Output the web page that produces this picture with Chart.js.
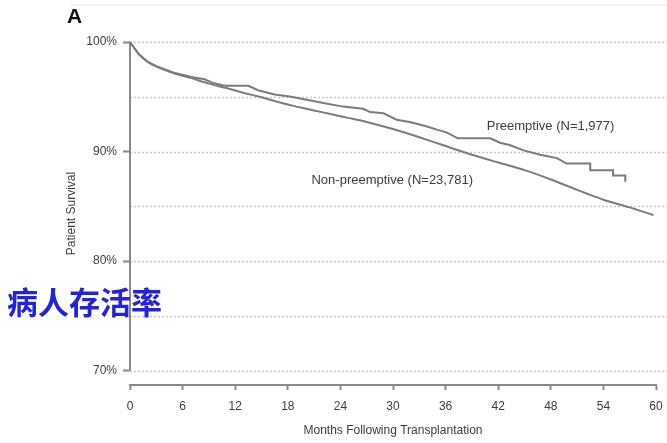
<!DOCTYPE html>
<html>
<head>
<meta charset="utf-8">
<script src="https://cdn.jsdelivr.net/npm/chart.js@4.4.1/dist/chart.umd.min.js"></script>
<style>
    html, body { margin: 0; padding: 0; background: #ffffff; }
    canvas { display: block; }
</style>
</head>
<body>
<canvas id="survivalChart" width="667" height="443"></canvas>
<script>
const monthTicks = [0, 6, 12, 18, 24, 30, 36, 42, 48, 54, 60]
const survivalTicks = [70, 80, 90, 100]
const gridValues = [70, 75, 80, 85, 90, 95, 100]

const nonPreMonths = [0, 1, 2, 3, 5, 7, 9, 11, 13, 15, 17, 19, 21, 23, 25, 27, 30, 33, 36, 39, 42, 45, 48, 51, 54, 57, 59.7]
const nonPreSurvival = [100, 98.9, 98.2, 97.75, 97.15, 96.7, 96.2, 95.8, 95.35, 94.95, 94.5, 94.1, 93.75, 93.4, 93.05, 92.7, 92.05, 91.3, 90.5, 89.7, 89.0, 88.3, 87.45, 86.5, 85.6, 84.9, 84.2]

const preMonths = [0, 1, 2, 3, 5, 7, 8.5, 9.5, 10.8, 13.5, 14.6, 16.5, 18.4, 20.3, 22.2, 24.3, 26.6, 27.4, 28.9, 30.4, 31.9, 33.8, 35, 36.1, 37.4, 41.1, 42.2, 43.3, 44.9, 46.8, 48.7, 49.8, 52.5, 52.5, 55.1, 55.1, 56.5, 56.5]
const preSurvival = [100, 98.9, 98.2, 97.8, 97.2, 96.8, 96.6, 96.25, 96.0, 96.0, 95.6, 95.2, 95.0, 94.7, 94.4, 94.1, 93.9, 93.6, 93.5, 92.9, 92.7, 92.3, 92.0, 91.75, 91.2, 91.2, 90.8, 90.6, 90.1, 89.7, 89.4, 88.9, 88.9, 88.3, 88.3, 87.8, 87.8, 87.25]

const seriesLabels = ["Preemptive (N=1,977)", "Non-preemptive (N=23,781)"]
// where each curve label sits, in months / percent
const labelAnchors = [[40.7, 92.25], [20.7, 87.35]]

const toPoints = (xs, ys) => xs.map((x, i) => ({ x: x, y: ys[i] }))

const fontFamily = "'Liberation Sans', Arial, sans-serif"
const lineGrey = "#7c7c7c"
const axisGrey = "#8a8a8a"
const textGrey = "#3c3c3c"

const framePlugin = {
    id: "frame",
    beforeDatasetsDraw(chart) {
        const { ctx, chartArea, scales } = chart
        const y = scales.y
        ctx.save()
        // faint line along the top of the figure
        ctx.strokeStyle = "#eeeeee"
        ctx.lineWidth = 1.5
        ctx.beginPath()
        ctx.moveTo(70, 5)
        ctx.lineTo(chart.width, 5)
        ctx.stroke()
        // dotted grid, runs to the right edge
        ctx.strokeStyle = "#c6c6c6"
        ctx.lineWidth = 1.5
        ctx.setLineDash([2, 2])
        for (const v of gridValues) {
            const py = Math.round(y.getPixelForValue(v)) + 0.5
            ctx.beginPath()
            ctx.moveTo(chartArea.left, py)
            ctx.lineTo(chart.width, py)
            ctx.stroke()
        }
        ctx.setLineDash([])
        // y axis line stops at 70%
        ctx.strokeStyle = axisGrey
        ctx.lineWidth = 2
        ctx.beginPath()
        ctx.moveTo(chartArea.left, y.getPixelForValue(100))
        ctx.lineTo(chartArea.left, y.getPixelForValue(70))
        ctx.stroke()
        ctx.restore()
    },
    afterDatasetsDraw(chart) {
        const { ctx, scales } = chart
        ctx.save()
        ctx.textBaseline = "middle"
        ctx.textAlign = "left"
        ctx.fillStyle = "#111111"
        ctx.font = "bold 21px " + fontFamily
        ctx.fillText("A", 67, 17)

        ctx.fillStyle = textGrey
        ctx.font = "13px " + fontFamily
        seriesLabels.forEach((text, i) => {
            const [mx, my] = labelAnchors[i]
            ctx.fillText(text, scales.x.getPixelForValue(mx), scales.y.getPixelForValue(my))
        })

        ctx.fillStyle = "#2323dc"
        ctx.font = "bold 31px 'Noto Sans CJK SC', sans-serif"
        ctx.fillText("病人存活率", 7, 302)
        ctx.restore()
    },
}

new Chart(document.getElementById("survivalChart"), {
    type: "line",
    data: {
        datasets: [
            {
                label: seriesLabels[0],
                data: toPoints(preMonths, preSurvival),
                borderColor: lineGrey,
                borderWidth: 2,
                pointRadius: 0,
                tension: 0,
                clip: false,
            },
            {
                label: seriesLabels[1],
                data: toPoints(nonPreMonths, nonPreSurvival),
                borderColor: lineGrey,
                borderWidth: 2,
                pointRadius: 0,
                tension: 0.2,
                clip: false,
            },
        ],
    },
    options: {
        responsive: false,
        animation: false,
        devicePixelRatio: 1,
        layout: {
            padding: { left: 0, top: 42, right: 11, bottom: 0 },
        },
        plugins: {
            legend: { display: false },
            tooltip: { enabled: false },
        },
        scales: {
            x: {
                type: "linear",
                min: 0,
                max: 60,
                afterFit: (scale) => {
                    scale.height = 58
                    scale.paddingLeft = 0
                    scale.paddingRight = 0
                },
                afterBuildTicks: (scale) => {
                    scale.ticks = monthTicks.map((v) => ({ value: v }))
                },
                border: { display: true, color: axisGrey, width: 2 },
                grid: {
                    drawOnChartArea: false,
                    drawTicks: true,
                    tickLength: 5,
                    tickColor: axisGrey,
                    tickWidth: 2,
                },
                ticks: {
                    color: textGrey,
                    padding: 9,
                    maxRotation: 0,
                    font: { family: fontFamily, size: 12 },
                },
                title: {
                    display: true,
                    text: "Months Following Transplantation",
                    color: textGrey,
                    font: { family: fontFamily, size: 12 },
                    padding: { top: 0, bottom: 5 },
                },
            },
            y: {
                min: 68.68,
                max: 100,
                afterFit: (scale) => {
                    scale.width = 130
                    scale.paddingTop = 0
                    scale.paddingBottom = 0
                },
                afterBuildTicks: (scale) => {
                    scale.ticks = survivalTicks.map((v) => ({ value: v }))
                },
                border: { display: false },
                grid: {
                    drawOnChartArea: false,
                    drawTicks: true,
                    tickLength: 7,
                    tickColor: axisGrey,
                    tickWidth: 2,
                },
                ticks: {
                    color: textGrey,
                    padding: 6,
                    font: { family: fontFamily, size: 12 },
                    callback: (value) => value + "%",
                },
                title: {
                    display: true,
                    text: "Patient Survival",
                    color: textGrey,
                    font: { family: fontFamily, size: 12 },
                    padding: { top: 64, bottom: 0 },
                },
            },
        },
    },
    plugins: [framePlugin],
})
</script>
</body>
</html>
